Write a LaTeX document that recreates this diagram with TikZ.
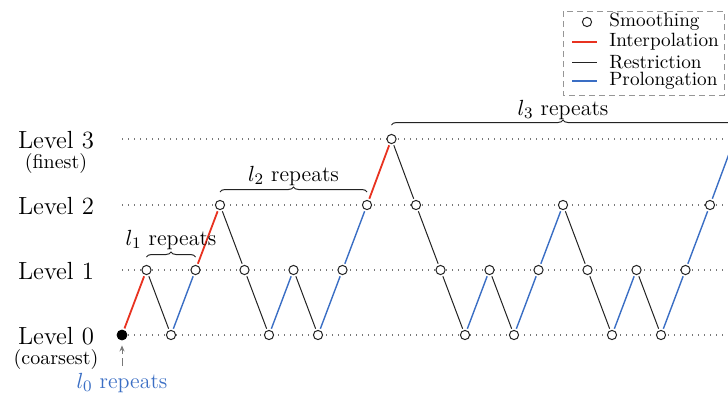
\documentclass[tikz,border=0pt]{standalone}
\usetikzlibrary{decorations.pathreplacing,arrows.meta,calc}
\definecolor{interpc}{RGB}{232,50,32}
\definecolor{prolc}{RGB}{58,110,196}
\definecolor{restc}{RGB}{35,35,35}
\definecolor{dotc}{RGB}{120,120,120}
\definecolor{legc}{RGB}{150,150,150}
\begin{document}
\begin{tikzpicture}[x=0.5pt,y=-0.5pt,
  smnode/.style={circle,draw=restc,fill=white,minimum size=4.6pt,inner sep=0pt,line width=0.5pt},
  coarsenode/.style={circle,draw=black,fill=black,minimum size=5pt,inner sep=0pt},
  levelline/.style={dotc,line width=0.6pt,dash pattern=on 0.6pt off 2.4pt},
  intl/.style={interpc,line width=0.9pt,shorten <=0.8pt,shorten >=0.8pt},
  resl/.style={restc,line width=0.5pt,shorten <=0.8pt,shorten >=0.8pt},
  prol/.style={prolc,line width=0.7pt,shorten <=0.8pt,shorten >=0.8pt},
  brc/.style={decorate,decoration={brace,amplitude=2.5pt},restc,line width=0.5pt},
  lvl/.style={font=\fontsize{12.4}{14}\selectfont,text=black,inner sep=0pt},
  sub/.style={font=\fontsize{10}{12}\selectfont,text=black,inner sep=0pt},
  rep/.style={font=\fontsize{11}{13}\selectfont,text=black,inner sep=0pt},
  legtext/.style={font=\fontsize{9.6}{11}\selectfont,text=black,anchor=west,inner sep=0pt}
]
\useasboundingbox (0,0) rectangle (728,397);
\clip (0,0) rectangle (728,397);

% level labels
\node[lvl] (lab3) at (56,140.5) {Level 3};
\node[sub] (fin) at (56,163) {(finest)};
\node[lvl] (lab2) at (56,206.5) {Level 2};
\node[lvl] (lab1) at (56,271.5) {Level 1};
\node[lvl] (lab0) at (56,336) {Level 0};
\node[sub] (coa) at (56,359.5) {(coarsest)};

% dotted level lines
\coordinate (d3a) at (122,139); \coordinate (d3b) at (740,139);
\coordinate (d2a) at (122,205); \coordinate (d2b) at (740,205);
\coordinate (d1a) at (122,270); \coordinate (d1b) at (740,270);
\coordinate (d0a) at (122,335); \coordinate (d0b) at (740,335);
\draw[levelline] (d3a) -- (d3b);
\draw[levelline] (d2a) -- (d2b);
\draw[levelline] (d1a) -- (d1b);
\draw[levelline] (d0a) -- (d0b);

% nodes
\node[coarsenode] (n0) at (122,335) {};
\foreach \k/\y in {1/270,2/335,3/270,4/205,5/270,6/335,7/270,8/335,9/270,10/205,
  11/139,12/205,13/270,14/335,15/270,16/335,17/270,18/205,19/270,20/335,21/270,
  22/335,23/270,24/205,25/139}
  \node[smnode] (n\k) at ({122+24.5*\k},\y) {};

% edges
\draw[intl] (n0) -- (n1);
\draw[resl] (n1) -- (n2);
\draw[prol] (n2) -- (n3);
\draw[intl] (n3) -- (n4);
\draw[resl] (n4) -- (n5);
\draw[resl] (n5) -- (n6);
\draw[prol] (n6) -- (n7);
\draw[resl] (n7) -- (n8);
\draw[prol] (n8) -- (n9);
\draw[prol] (n9) -- (n10);
\draw[intl] (n10) -- (n11);
\draw[resl] (n11) -- (n12);
\draw[resl] (n12) -- (n13);
\draw[resl] (n13) -- (n14);
\draw[prol] (n14) -- (n15);
\draw[resl] (n15) -- (n16);
\draw[prol] (n16) -- (n17);
\draw[prol] (n17) -- (n18);
\draw[resl] (n18) -- (n19);
\draw[resl] (n19) -- (n20);
\draw[prol] (n20) -- (n21);
\draw[resl] (n21) -- (n22);
\draw[prol] (n22) -- (n23);
\draw[prol] (n23) -- (n24);
\draw[prol] (n24) -- (n25);

% braces
\draw[brc] ($(n1)+(0,-13)$) -- ($(n3)+(0,-13)$);
\node[rep] (r1) at ($(n1)!0.5!(n3)+(0,-30)$) {$l_1$ repeats};
\draw[brc] ($(n4)+(0,-13)$) -- ($(n10)+(0,-13)$);
\node[rep] (r2) at ($(n4)!0.5!(n10)+(0,-29)$) {$l_2$ repeats};
\draw[brc] ($(n11)+(0,-14)$) -- ($(n25)+(0,-14)$);
\node[rep] (r3) at ($(n11)!0.5!(n25)+(0,-29)$) {$l_3$ repeats};

% l0 arrow
\coordinate (arr) at (122,366);
\draw[dotc,line width=0.5pt,dash pattern=on 4pt off 2pt,-{Stealth[length=3pt,width=2.5pt]},shorten >=2.5pt] (arr) -- (n0);
\node[rep,text=prolc] (r0) at (122,383) {$l_0$ repeats};

% legend
\draw[legc,line width=0.5pt,dash pattern=on 3pt off 2pt] (563,11) rectangle (724,95);
\node[smnode] (lsm) at (587,22) {};
\coordinate (li1) at (572,42); \coordinate (li2) at (597,42);
\coordinate (lr1) at (572,62); \coordinate (lr2) at (597,62);
\coordinate (lp1) at (572,81); \coordinate (lp2) at (597,81);
\draw[interpc,line width=0.9pt] (li1) -- (li2);
\draw[restc,line width=0.5pt] (lr1) -- (lr2);
\draw[prolc,line width=0.7pt] (lp1) -- (lp2);
\node[legtext] (t1) at (609,22) {Smoothing};
\node[legtext] (t2) at (609,42) {Interpolation};
\node[legtext] (t3) at (609,62) {Restriction};
\node[legtext] (t4) at (609,81) {Prolongation};
\end{tikzpicture}
\end{document}
